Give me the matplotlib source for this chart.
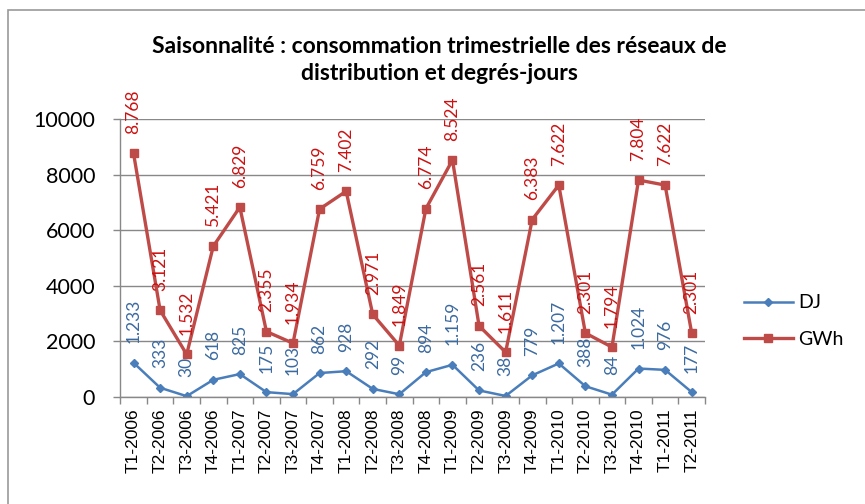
import numpy as np
import matplotlib.pyplot as plt
from matplotlib.patches import Rectangle

# Trimestres
trimestres = ["T1-2006", "T2-2006", "T3-2006", "T4-2006",
              "T1-2007", "T2-2007", "T3-2007", "T4-2007",
              "T1-2008", "T2-2008", "T3-2008", "T4-2008",
              "T1-2009", "T2-2009", "T3-2009", "T4-2009",
              "T1-2010", "T2-2010", "T3-2010", "T4-2010",
              "T1-2011", "T2-2011"]

# Degrés-jours
dj = [1233, 333, 30, 618, 825, 175, 103, 862, 928, 292, 99,
      894, 1159, 236, 38, 779, 1207, 388, 84, 1024, 976, 177]

# Consommation (GWh)
gwh = [8768, 3121, 1532, 5421, 6829, 2355, 1934, 6759, 7402, 2971, 1849,
       6774, 8524, 2561, 1611, 6383, 7622, 2301, 1794, 7804, 7622, 2301]


def fmt(v):
    # séparateur de milliers "."
    return f"{v:,}".replace(",", ".")


fig = plt.figure(figsize=(8.65, 5.04), dpi=100)
ax = fig.add_axes([0.139, 0.2123, 0.676, 0.5516])

x = np.arange(len(trimestres))
ax.plot(x, dj, color="#4a7ebb", lw=1.8, marker="D", markersize=4.5, label="DJ")
ax.plot(x, gwh, color="#be4b48", lw=2.4, marker="s", markersize=6, label="GWh")

for xi, v in zip(x, dj):
    ax.annotate(fmt(v), (xi, v), xytext=(0, 14), textcoords="offset points",
                rotation=90, ha="center", va="bottom", color="#3b6aa0",
                fontsize=12.5, family="Lato")
for xi, v in zip(x, gwh):
    ax.annotate(fmt(v), (xi, v), xytext=(0, 14), textcoords="offset points",
                rotation=90, ha="center", va="bottom", color="#cc1111",
                fontsize=12.5, family="Lato", annotation_clip=False)

ax.set_xlim(-0.5, len(trimestres) - 0.5)
ax.set_ylim(0, 10000)
ax.set_yticks(np.arange(0, 10001, 2000))
ax.set_xticks(x)
ax.set_xticklabels(trimestres, rotation=90, family="Liberation Sans", fontsize=12.5)
ax.set_xticks(np.arange(-0.5, len(trimestres), 1), minor=True)
ax.tick_params(axis="x", which="major", length=0, pad=8)
ax.tick_params(axis="x", which="minor", length=5, color="#888888", width=1)
ax.tick_params(axis="y", length=5, color="#888888", width=1, labelsize=15.5, pad=13)
for lab in ax.get_yticklabels():
    lab.set_family("Lato")

ax.grid(axis="y", color="#888888", lw=1)
ax.set_axisbelow(True)
for s in ["top", "right"]:
    ax.spines[s].set_visible(False)
for s in ["left", "bottom"]:
    ax.spines[s].set_color("#888888")
    ax.spines[s].set_linewidth(1)

fig.text(0.508, 0.881, "Saisonnalité : consommation trimestrielle des réseaux de\ndistribution et degrés-jours",
         ha="center", va="center", fontsize=16.5, fontweight="bold", family="Lato",
         linespacing=1.3)

leg = fig.legend(loc="center left", bbox_to_anchor=(0.86, 0.363), frameon=False,
                 prop={"family": "Lato", "size": 14}, handlelength=2.5,
                 handletextpad=0.3, borderpad=0, borderaxespad=0,
                 labelspacing=1.0)

# cadre du graphique
fig.add_artist(Rectangle((8 / 865, -0.1), 1.2, 0.1 + 1 - 10 / 504,
                         transform=fig.transFigure, fill=False,
                         edgecolor="#999999", lw=1.2))

fig.savefig("out.png", dpi=100)
